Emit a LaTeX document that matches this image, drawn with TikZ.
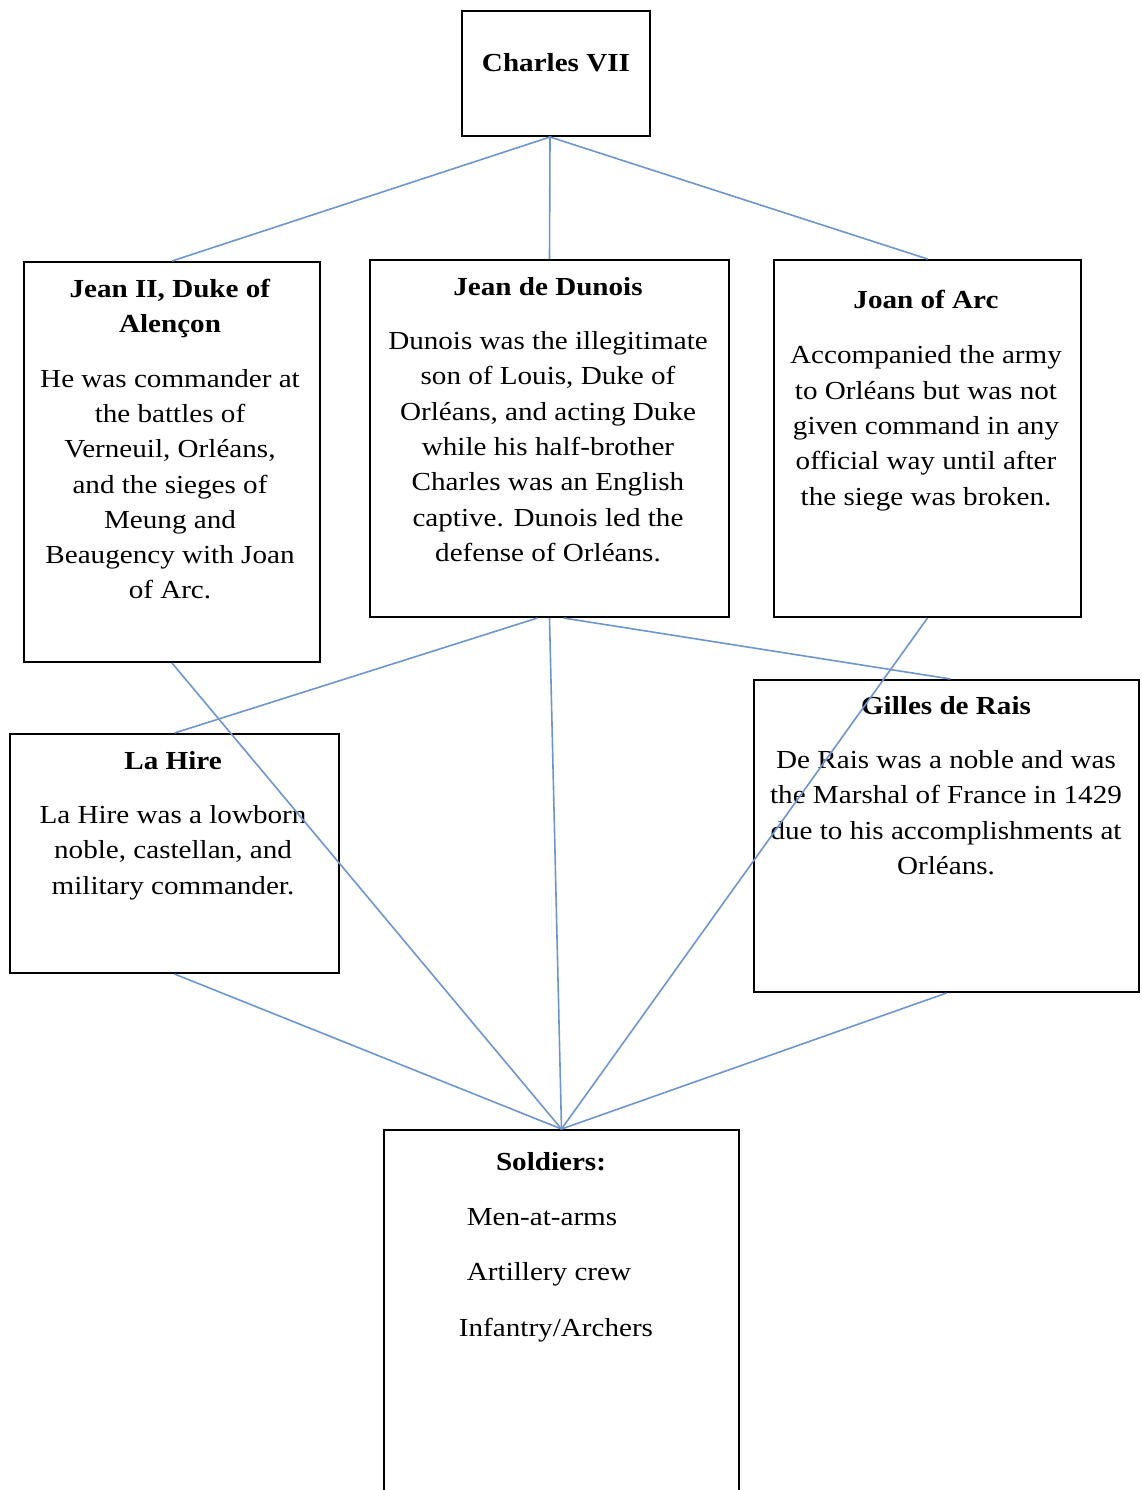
\documentclass[tikz,border=0pt]{standalone}
\usepackage{fontspec}
\setmainfont[FakeStretch=1.12]{Liberation Serif}
\begin{document}
\begin{tikzpicture}[x=1pt,y=-1pt,
  box/.style={draw=black,line width=2pt,rectangle,inner sep=0pt},
  txt/.style={anchor=north,align=center,inner sep=0pt,font=\fontsize{26}{35.3}\selectfont},
  link/.style={draw={rgb,255:red,110;green,150;blue,205},line width=1.6pt}]
\useasboundingbox (0,0) rectangle (1141,1490);
\clip (0,0) rectangle (1141,1490);
\fill[white] (0,0) rectangle (1141,1490);
% boxes
\node[box,minimum width=188pt,minimum height=125pt] (charles) at (556,73.5) {};
\node[box,minimum width=296pt,minimum height=400pt] (jean) at (172,462) {};
\node[box,minimum width=359pt,minimum height=357pt] (dunois) at (549.5,438.5) {};
\node[box,minimum width=307pt,minimum height=357pt] (joan) at (927.5,438.5) {};
\node[box,minimum width=329pt,minimum height=239pt] (lahire) at (174.5,853.5) {};
\node[box,minimum width=385pt,minimum height=312pt] (gilles) at (946.5,836) {};
\node[box,minimum width=355pt,minimum height=380pt] (soldiers) at (561.5,1320) {};
% texts
\node[txt] (charlesT) at (556,53) {\textbf{Charles VII}};
\node[txt] (jeanT) at (170,279) {\textbf{Jean II, Duke of}\\\textbf{Alençon}\\[19pt]He was commander at\\the battles of\\Verneuil, Orléans,\\and the sieges of\\Meung and\\Beaugency with Joan\\of Arc.};
\node[txt] (dunoisT) at (548,277) {\textbf{Jean de Dunois}\\[19pt]Dunois was the illegitimate\\son of Louis, Duke of\\Orléans, and acting Duke\\while his half-brother\\Charles was an English\\captive. Dunois led the\\defense of Orléans.};
\node[txt] (joanT) at (926,290) {\textbf{Joan of Arc}\\[20pt]Accompanied the army\\to Orléans but was not\\given command in any\\official way until after\\the siege was broken.};
\node[txt] (lahireT) at (173,751) {\textbf{La Hire}\\[19pt]La Hire was a lowborn\\noble, castellan, and\\military commander.};
\node[txt] (gillesT) at (946,696) {\textbf{Gilles de Rais}\\[19pt]De Rais was a noble and was\\the Marshal of France in 1429\\due to his accomplishments at\\Orléans.};
\node[txt] (soldiersT) at (551,1152) {\textbf{Soldiers:}\\[20pt]Men-at-arms\rule{18pt}{0pt}\\[20pt]Artillery crew\rule{4pt}{0pt}\\[20pt]\rule{10pt}{0pt}Infantry/Archers};
% connectors
\coordinate (cs) at ([xshift=-6pt]charles.south);
\draw[link] (cs) -- (jean.north);
\draw[link] (cs) -- (dunois.north);
\draw[link] (cs) -- (joan.north);
\draw[link] ([xshift=-12pt]dunois.south) -- (lahire.north);
\draw[link] ([xshift=14pt]dunois.south) -- ([xshift=4pt]gilles.north);
\draw[link] (dunois.south) -- (soldiers.north);
\draw[link] (jean.south) -- (soldiers.north);
\draw[link] (joan.south) -- (soldiers.north);
\draw[link] (lahire.south) -- (soldiers.north);
\draw[link] (gilles.south) -- (soldiers.north);
\end{tikzpicture}
\end{document}
